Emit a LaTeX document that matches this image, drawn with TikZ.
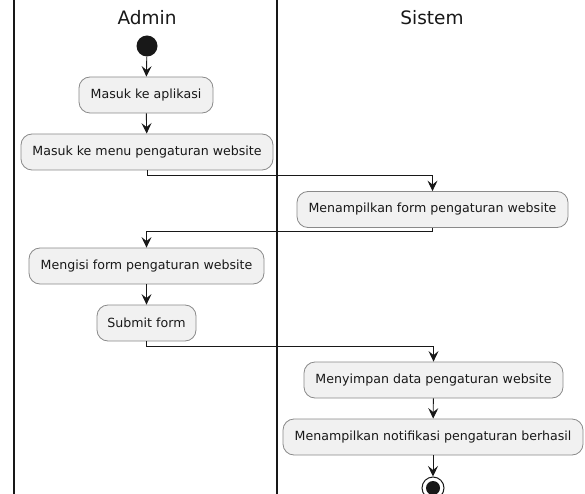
\documentclass[tikz,border=0pt]{standalone}
\usepackage{fontspec}
\setmainfont{DejaVu Sans}
\usetikzlibrary{arrows.meta}
\definecolor{boxfill}{HTML}{F1F1F1}
\definecolor{boxline}{HTML}{8A8A8A}
\definecolor{ink}{HTML}{181818}
\tikzset{
  act/.style={draw=boxline, line width=0.8pt, fill=boxfill, rounded corners=11pt,
    minimum height=36pt, inner sep=0pt, text=ink,
    font=\fontsize{12.6}{14}\selectfont},
  flow/.style={draw=ink, line width=0.9pt,
    -{Stealth[length=10.5pt,width=10pt,inset=4pt]}},
  lane/.style={draw=ink, line width=1.8pt},
  lanehead/.style={font=\fontsize{18.5}{22}\selectfont, text=ink}
}
\begin{document}
\begin{tikzpicture}[x=1pt,y=-1pt]
  \useasboundingbox[fill=white] (0,0) rectangle (585,494);

  % swimlane separators
  \draw[lane] (14,0) -- (14,494);
  \draw[lane] (277,0) -- (277,494);

  % lane titles
  \node[lanehead] (hAdmin) at (147,18) {Admin};
  \node[lanehead] (hSistem) at (432,18) {Sistem};

  % start
  \node[circle, fill=ink, minimum size=21pt, inner sep=0pt] (start) at (147,46) {};

  % activities
  \node[act, minimum width=134pt] (b1) at (146,95) {Masuk ke aplikasi};
  \node[act, minimum width=252pt] (b2) at (147,152) {Masuk ke menu pengaturan website};
  \node[act, minimum width=271pt] (b3) at (432.5,209.5) {Menampilkan form pengaturan website};
  \node[act, minimum width=235pt] (b4) at (146.5,266) {Mengisi form pengaturan website};
  \node[act, minimum width=99pt]  (b5) at (146.5,323) {Submit form};
  \node[act, minimum width=259pt] (b6) at (433.5,380) {Menyimpan data pengaturan website};
  \node[act, minimum width=300pt] (b7) at (433,437) {Menampilkan notifikasi pengaturan berhasil};

  % end
  \node[circle, draw=ink, line width=1pt, fill=white, minimum size=22pt, inner sep=0pt] (stop) at (433,488) {};
  \node[circle, fill=ink, minimum size=14pt, inner sep=0pt] (stopdot) at (stop.center) {};

  % control flow
  \draw[flow] (start) -- (b1);
  \draw[flow] (b1) -- (b2);
  \draw[flow] (b2.south) -- ++(0,5) -| (b3.north);
  \draw[flow] (b3.south) -- ++(0,4) -| (b4.north);
  \draw[flow] (b4) -- (b5);
  \draw[flow] (b5.south) -- ++(0,5) -| (b6.north);
  \draw[flow] (b6) -- (b7);
  \draw[flow] (b7) -- (stop);
\end{tikzpicture}
\end{document}
